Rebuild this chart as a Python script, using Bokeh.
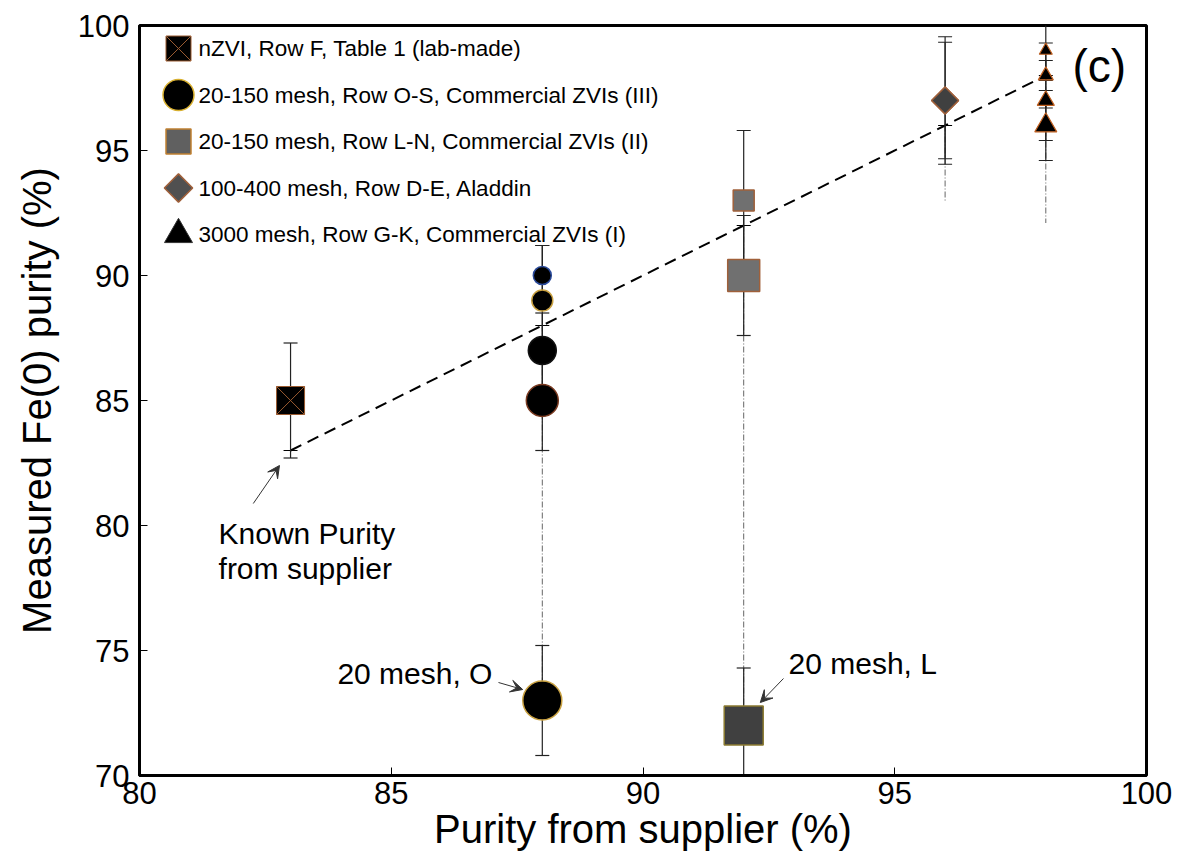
import numpy as np
from bokeh.plotting import figure
from bokeh.models import Range1d, Arrow, VeeHead, Label, FixedTicker
from bokeh.core.properties import value
from bokeh.embed import file_html
from bokeh.resources import INLINE

FONT = "Liberation Sans"

# ---------------- data ----------------
legend_labels = [
    "nZVI, Row F, Table 1 (lab-made)",
    "20-150 mesh, Row O-S, Commercial ZVIs (III)",
    "20-150 mesh, Row L-N, Commercial ZVIs (II)",
    "100-400 mesh, Row D-E, Aladdin",
    "3000 mesh, Row G-K, Commercial ZVIs (I)",
]
nzvi_x = [83]
nzvi_y = [85]
nzvi_err = [2.3]

circ_x = [88, 88, 88, 88, 88]
circ_y = [90, 89, 87, 85, 73]
circ_err = [1.2, 2.2, 1.5, 2.0, 2.2]

sq_x = [92, 92, 92]
sq_y = [93, 90, 72]
sq_err = [2.8, 2.4, 2.3]

dia_x = [96, 96]
dia_y = [97, 97]
dia_err = [2.55, 2.33]

tri_x = [98, 98, 98, 98]
tri_y = [99, 98, 97, 96]
tri_err = [1.2, 1.3, 1.6, 1.4]

known_x = [83, 88, 92, 96, 98]
known_y = [83, 88, 92, 96, 98]
known_low = [83, 73, 72, 93, 92.1]

x_ticks = [80, 85, 90, 95, 100]
y_ticks = [70, 75, 80, 85, 90, 95, 100]

# ---------------- figure ----------------
p = figure(width=1177, height=866, x_range=Range1d(80, 100), y_range=Range1d(70, 100),
           output_backend="svg", toolbar_location=None,
           min_border_left=139, min_border_right=31, min_border_top=25, min_border_bottom=91)
p.background_fill_color = "white"
p.border_fill_color = "white"
p.xgrid.visible = False
p.ygrid.visible = False
p.outline_line_color = "black"
p.outline_line_width = 3
p.outline_line_alpha = 1

for ax in (p.xaxis[0], p.yaxis[0]):
    ax.axis_line_width = 3
    ax.axis_line_color = "black"
    ax.major_tick_in = 8
    ax.major_tick_out = 0
    ax.major_tick_line_width = 1
    ax.minor_tick_line_color = None
    ax.major_label_text_font = FONT
    ax.major_label_text_font_size = "31px"
    ax.major_label_text_color = "black"
    ax.axis_label_text_font = FONT
    ax.axis_label_text_font_size = "40px"
    ax.axis_label_text_font_style = "normal"
    ax.axis_label_text_color = "black"
p.xaxis.ticker = FixedTicker(ticks=x_ticks)
p.yaxis.ticker = FixedTicker(ticks=y_ticks)
p.xaxis.axis_label = "Purity from supplier (%)"
p.yaxis.axis_label = "Measured Fe(0) purity (%)"
p.xaxis.major_label_standoff = 6
p.yaxis.major_label_standoff = 10
p.xaxis.axis_label_standoff = 0
p.yaxis.axis_label_standoff = 16

# ---------------- known purity guide ----------------
p.segment(x0=known_x, y0=known_y, x1=known_x, y1=known_low,
          line_color="#666666", line_width=1, line_dash="6 2 1 2")
p.line(known_x, known_y, line_color="black", line_width=2, line_dash="12 7")
p.scatter(known_x, known_y, marker="dash", size=14, line_color="black", line_width=1)

# ---------------- error bars ----------------
def errbars(xs, ys, es):
    lo = [y - e for y, e in zip(ys, es)]
    hi = [y + e for y, e in zip(ys, es)]
    p.segment(x0=xs, y0=lo, x1=xs, y1=hi, line_color="#222222", line_width=1.2)
    p.scatter(xs + xs, lo + hi, marker="dash", size=14, line_color="#222222", line_width=1.2)

errbars(nzvi_x, nzvi_y, nzvi_err)
errbars(circ_x, circ_y, circ_err)
errbars(sq_x, sq_y, sq_err)
errbars(dia_x, dia_y, dia_err)
errbars(tri_x, tri_y, tri_err)

# ---------------- markers ----------------
p.scatter(nzvi_x, nzvi_y, marker="square_x", size=28, fill_color="black",
          line_color="#9a5a30", line_width=1)
p.scatter(circ_x, circ_y, marker="circle", size=[18, 21, 28, 32, 39], fill_color="black",
          line_color=["#2a4a9a", "#c8a040", "#111111", "#7a3a20", "#c8a040"], line_width=1.5)
p.scatter(sq_x, sq_y, marker="square", size=[21, 32, 39],
          fill_color=["#707070", "#707070", "#404040"],
          line_color=["#a0603a", "#a0603a", "#8a7a30"], line_width=1.5)
p.scatter(dia_x, dia_y, marker="square", angle=np.pi / 4, size=19,
          fill_color="#404040", line_color="#a0603a", line_width=1.5)
p.scatter(tri_x, tri_y, marker="triangle", size=[13, 15, 17, 22], fill_color="black",
          line_color="#c06020", line_width=1.2)

# ---------------- manual legend (frame pixel coordinates) ----------------
p.extra_x_ranges["px"] = Range1d(0, 1007)
p.extra_y_ranges["px"] = Range1d(750, 0)
leg_rows = [23 + 46.5 * i for i in range(len(legend_labels))]
mk_x = 39
leg_styles = [
    dict(marker="square_x", size=25, fill_color="black", line_color="#9a5a30", line_width=1),
    dict(marker="circle", size=31, fill_color="black", line_color="#d8b030", line_width=1.5),
    dict(marker="square", size=25, fill_color="#606060", line_color="#c08030", line_width=1.5),
    dict(marker="square", size=20, angle=np.pi / 4, fill_color="#505050", line_color="#a0603a", line_width=1.5),
    dict(marker="triangle", size=28, fill_color="black", line_color="#333333", line_width=1),
]
for yy, st in zip(leg_rows, leg_styles):
    p.scatter([mk_x], [yy], x_range_name="px", y_range_name="px", **st)
p.text(x=[59] * len(legend_labels), y=leg_rows, text=legend_labels,
       x_range_name="px", y_range_name="px",
       text_font=value(FONT), text_font_size="22.5px", text_baseline="middle",
       text_align="left", text_color="black")

# ---------------- annotations ----------------
def lab(x, y, t, size="30px", align="left"):
    p.add_layout(Label(x=x, y=y, text=t, text_font=FONT, text_font_size=size,
                       text_baseline="middle", text_align=align, text_color="black"))

lab(98.53, 98.4, "(c)", size="46px")
lab(81.57, 79.7, "Known Purity")
lab(81.57, 78.3, "from supplier")
lab(83.93, 74.08, "20 mesh, O")
lab(92.89, 74.48, "20 mesh, L")

for xs, ys, xe, ye in [(82.26, 80.88, 82.78, 82.4), (87.13, 73.72, 87.61, 73.44),
                       (92.79, 73.88, 92.33, 72.92)]:
    p.add_layout(Arrow(x_start=xs, y_start=ys, x_end=xe, y_end=ye, line_width=1,
                       line_color="#333333",
                       end=VeeHead(size=12, fill_color="#333333", line_color="#333333", line_width=1)))

open("out.html", "w").write(file_html(p, INLINE))
